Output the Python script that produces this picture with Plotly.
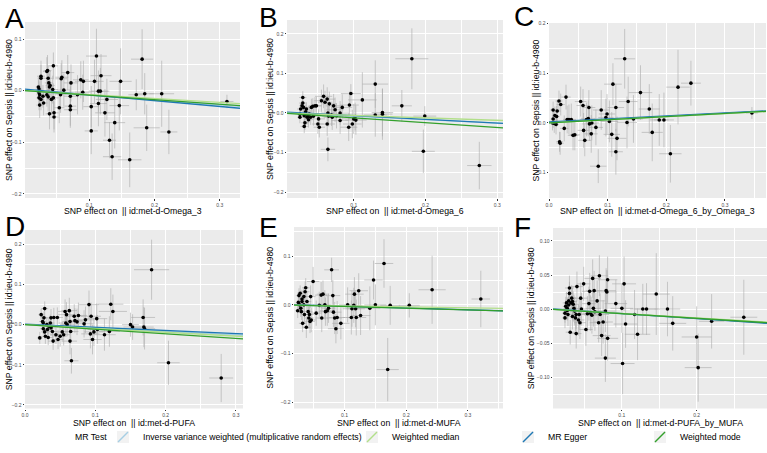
import plotly.graph_objects as go

FONT = "Liberation Sans, Arial, sans-serif"
W, H = 767, 453

# ---------------- data ----------------
METHODS = ["Inverse variance weighted (multiplicative random effects)",
           "Weighted median", "MR Egger", "Weighted mode"]
METHOD_COLORS = ["#a6cee3", "#b2df8a", "#1f78b4", "#33a02c"]

# Panel A: Omega_3
a_x = [0.022,0.023,0.023,0.024,0.023,0.026,0.024,0.026,0.026,0.029,
       0.030,0.035,0.036,0.037,0.038,0.039,0.035,0.037,0.039,0.045,
       0.042,0.045,0.046,0.046,0.044,0.040,0.057,0.058,0.056,0.054,
       0.061,0.067,0.072,0.071,0.071,0.071,0.087,0.091,0.090,0.082,
       0.103,0.103,0.108,0.111,0.114,0.117,0.118,0.114,0.124,0.127,
       0.131,0.135,0.139,0.146,0.148,0.162,0.172,0.181,0.185,0.188,
       0.211,0.222,0.311]
a_y = [0.007,0.003,-0.004,-0.008,-0.014,-0.017,-0.028,0.028,0.024,-0.011,
       -0.024,0.037,0.039,0.024,0.015,0.007,-0.008,-0.012,-0.045,0.048,
       -0.017,-0.014,-0.043,-0.051,0.002,0.010,0.023,0.026,-0.008,-0.033,
       0.001,0.035,0.015,-0.011,-0.030,-0.037,0.021,0.018,-0.003,-0.008,
       -0.031,-0.078,0.018,0.067,-0.001,-0.001,0.029,-0.025,-0.043,-0.017,
       -0.096,-0.128,-0.062,-0.029,0.018,-0.134,-0.008,0.061,-0.006,-0.072,
       -0.006,-0.080,-0.021]
a_sx = [0.004,0.005,0.004,0.005,0.004,0.005,0.005,0.006,0.005,0.005,
        0.006,0.006,0.006,0.007,0.006,0.006,0.006,0.007,0.006,0.007,
        0.007,0.008,0.007,0.007,0.008,0.007,0.009,0.010,0.009,0.008,
        0.010,0.010,0.011,0.010,0.009,0.010,0.012,0.013,0.012,0.011,
        0.012,0.010,0.014,0.016,0.015,0.014,0.016,0.013,0.015,0.017,
        0.010,0.014,0.016,0.015,0.017,0.018,0.012,0.017,0.014,0.020,
        0.019,0.013,0.010]
a_sy = [0.020,0.018,0.022,0.020,0.024,0.021,0.025,0.030,0.026,0.022,
        0.024,0.028,0.030,0.025,0.027,0.026,0.023,0.028,0.030,0.026,
        0.030,0.028,0.032,0.030,0.027,0.029,0.030,0.033,0.035,0.030,
        0.032,0.034,0.036,0.030,0.038,0.035,0.036,0.040,0.034,0.038,
        0.040,0.045,0.042,0.053,0.040,0.045,0.042,0.044,0.046,0.040,
        0.035,0.045,0.050,0.048,0.064,0.053,0.030,0.058,0.040,0.045,
        0.064,0.043,0.013]
a_slope = [-0.092, -0.076, -0.112, -0.088]   # IVW, W.median, Egger, W.mode
a_egger_int = 0.003

# Panel B: Omega_6
b_x = [0.025,0.025,0.026,0.028,0.029,0.029,0.030,0.031,0.032,0.031,
       0.033,0.034,0.035,0.036,0.037,0.038,0.040,0.041,0.043,0.044,
       0.046,0.048,0.050,0.051,0.052,0.055,0.058,0.060,0.063,0.064,
       0.064,0.065,0.063,0.066,0.069,0.070,0.072,0.074,0.076,0.081,
       0.081,0.084,0.093,0.094,0.096,0.098,0.100,0.102,0.103,0.112,
       0.130,0.130,0.140,0.140,0.167,0.181,0.199,0.197,0.275]
b_y = [-0.011,-0.003,0.010,0.018,0.039,0.025,0.014,-0.034,-0.025,-0.007,
       0.003,0.010,-0.011,-0.008,-0.017,-0.003,-0.011,0.014,0.017,-0.008,
       0.018,0.018,-0.028,-0.015,-0.036,0.031,0.042,0.027,0.035,-0.092,
       0.000,-0.008,-0.028,0.023,-0.005,-0.011,0.018,0.008,-0.007,0.000,
       -0.019,0.014,-0.036,0.020,0.049,-0.028,-0.015,-0.009,-0.018,0.033,
       0.073,-0.005,-0.003,0.001,0.018,0.137,-0.008,-0.097,-0.133]
b_sx = [0.004,0.004,0.005,0.004,0.005,0.005,0.004,0.005,0.005,0.005,
        0.005,0.006,0.006,0.006,0.006,0.007,0.006,0.007,0.007,0.008,
        0.008,0.008,0.008,0.009,0.008,0.010,0.012,0.010,0.011,0.010,
        0.010,0.009,0.011,0.010,0.011,0.012,0.011,0.012,0.012,0.013,
        0.012,0.014,0.012,0.013,0.014,0.013,0.015,0.014,0.015,0.020,
        0.018,0.016,0.014,0.015,0.014,0.023,0.016,0.016,0.017]
b_sy = [0.015,0.012,0.016,0.014,0.016,0.018,0.015,0.017,0.018,0.016,
        0.018,0.017,0.019,0.018,0.020,0.021,0.019,0.022,0.020,0.024,
        0.022,0.023,0.025,0.024,0.026,0.028,0.030,0.029,0.030,0.030,
        0.027,0.026,0.030,0.031,0.028,0.032,0.030,0.031,0.032,0.030,
        0.034,0.033,0.035,0.034,0.024,0.036,0.038,0.035,0.037,0.070,
        0.060,0.055,0.065,0.060,0.040,0.077,0.025,0.055,0.060]
b_slope = [-0.085, -0.062, -0.095, -0.123]
b_egger_int = 0.003

# Panel C: Omega_6_by_Omega_3
c_x = [0.006,0.007,0.007,0.009,0.010,0.012,0.013,0.014,0.017,0.018,
       0.019,0.020,0.026,0.029,0.031,0.034,0.038,0.041,0.044,0.054,
       0.058,0.059,0.061,0.064,0.067,0.068,0.069,0.072,0.073,0.080,
       0.089,0.097,0.099,0.103,0.107,0.109,0.114,0.116,0.114,0.084,
       0.129,0.135,0.133,0.144,0.156,0.171,0.176,0.188,0.196,0.207,
       0.220,0.242,0.346]
c_y = [0.000,0.008,0.026,-0.001,0.015,-0.003,0.013,0.024,0.044,-0.038,
       -0.041,0.037,-0.011,0.052,0.007,0.007,0.007,-0.025,-0.024,0.043,
       0.035,-0.015,-0.035,0.007,0.009,0.031,-0.002,-0.022,0.000,-0.009,
       0.026,0.011,0.018,0.003,-0.023,0.078,0.031,-0.031,-0.058,-0.087,
       0.129,0.043,0.001,0.008,0.061,0.028,-0.019,0.006,0.006,-0.062,
       0.072,0.080,0.020]
c_sx = [0.004,0.004,0.005,0.004,0.005,0.005,0.005,0.006,0.006,0.006,
        0.006,0.007,0.007,0.008,0.007,0.008,0.008,0.009,0.009,0.010,
        0.011,0.010,0.011,0.011,0.012,0.011,0.012,0.011,0.012,0.012,
        0.014,0.013,0.014,0.015,0.014,0.015,0.014,0.016,0.012,0.014,
        0.018,0.016,0.017,0.016,0.020,0.018,0.018,0.016,0.017,0.019,
        0.020,0.017,0.010]
c_sy = [0.015,0.018,0.017,0.019,0.018,0.020,0.021,0.022,0.021,0.020,
        0.023,0.022,0.026,0.025,0.028,0.030,0.032,0.030,0.031,0.030,
        0.033,0.035,0.032,0.034,0.036,0.035,0.034,0.038,0.035,0.036,
        0.040,0.038,0.040,0.042,0.045,0.042,0.048,0.044,0.046,0.034,
        0.060,0.050,0.052,0.048,0.055,0.050,0.058,0.052,0.055,0.058,
        0.075,0.045,0.012]
c_slope = [0.065, 0.062, 0.060, 0.063]
c_egger_int = 0.002

# Panel D: PUFA
d_x = [0.021,0.023,0.025,0.026,0.026,0.027,0.028,0.028,0.029,0.031,
       0.032,0.033,0.034,0.036,0.037,0.037,0.039,0.040,0.041,0.044,
       0.046,0.047,0.050,0.053,0.055,0.057,0.058,0.059,0.060,0.063,
       0.064,0.064,0.065,0.066,0.070,0.071,0.074,0.076,0.084,0.086,
       0.091,0.093,0.094,0.096,0.098,0.102,0.103,0.113,0.120,0.122,
       0.125,0.150,0.153,0.168,0.169,0.170,0.180,0.204,0.279]
d_y = [-0.033,0.025,0.008,-0.010,0.004,0.017,0.040,-0.018,-0.029,0.000,
       -0.012,-0.032,-0.004,0.004,0.017,-0.008,-0.017,-0.041,0.018,-0.025,
       0.018,-0.037,-0.029,-0.018,-0.025,0.033,0.004,0.025,0.000,0.035,
       0.008,-0.041,-0.017,-0.090,0.021,0.010,0.007,0.023,0.002,0.012,
       0.050,-0.023,0.021,-0.037,-0.018,0.015,-0.012,-0.025,-0.017,0.051,
       0.033,0.000,-0.006,0.018,-0.006,-0.010,0.137,-0.095,-0.133]
d_sx = [0.004,0.004,0.005,0.005,0.004,0.005,0.005,0.005,0.006,0.005,
        0.006,0.006,0.006,0.006,0.007,0.006,0.007,0.007,0.007,0.008,
        0.008,0.008,0.009,0.009,0.009,0.010,0.010,0.012,0.010,0.011,
        0.011,0.010,0.011,0.010,0.012,0.011,0.012,0.012,0.013,0.013,
        0.014,0.013,0.014,0.013,0.014,0.015,0.014,0.016,0.015,0.018,
        0.020,0.012,0.013,0.017,0.014,0.015,0.025,0.016,0.017]
d_sy = [0.015,0.014,0.016,0.015,0.017,0.016,0.018,0.017,0.019,0.018,
        0.018,0.019,0.020,0.021,0.022,0.020,0.023,0.022,0.024,0.023,
        0.025,0.024,0.026,0.025,0.027,0.030,0.028,0.031,0.029,0.032,
        0.030,0.033,0.031,0.032,0.030,0.031,0.033,0.032,0.034,0.033,
        0.035,0.036,0.034,0.037,0.035,0.038,0.036,0.040,0.038,0.040,
        0.042,0.030,0.032,0.045,0.050,0.052,0.075,0.055,0.060]
d_slope = [-0.085, -0.095, -0.078, -0.115]
d_egger_int = 0.001

# Panel E: MUFA
e_x = [0.024,0.025,0.026,0.027,0.028,0.029,0.030,0.031,0.031,0.032,
       0.034,0.034,0.035,0.036,0.037,0.038,0.039,0.041,0.042,0.043,
       0.044,0.045,0.046,0.049,0.054,0.059,0.062,0.063,0.065,0.068,
       0.069,0.072,0.074,0.079,0.081,0.082,0.084,0.086,0.088,0.094,
       0.105,0.111,0.112,0.115,0.116,0.118,0.119,0.123,0.126,0.141,
       0.147,0.150,0.164,0.170,0.174,0.205,0.242,0.321]
e_y = [-0.012,0.005,0.019,0.000,0.024,-0.007,-0.014,0.007,0.012,-0.038,
       0.017,0.000,-0.020,0.027,0.035,-0.046,0.007,-0.014,-0.027,-0.020,
       -0.034,0.017,-0.031,0.048,-0.017,-0.001,0.020,-0.027,0.022,0.000,
       -0.014,-0.012,-0.007,0.072,0.019,-0.015,-0.027,-0.049,-0.026,-0.038,
       0.000,-0.026,-0.008,-0.001,0.022,-0.008,-0.026,0.029,-0.022,-0.007,
       0.051,0.000,0.085,-0.133,-0.001,-0.001,0.031,0.012]
e_sx = [0.004,0.004,0.005,0.004,0.005,0.005,0.005,0.005,0.006,0.006,
        0.005,0.006,0.006,0.007,0.006,0.007,0.007,0.007,0.008,0.007,
        0.008,0.008,0.008,0.010,0.009,0.010,0.010,0.011,0.010,0.011,
        0.011,0.012,0.011,0.012,0.012,0.013,0.012,0.013,0.013,0.014,
        0.014,0.014,0.015,0.014,0.015,0.015,0.016,0.015,0.016,0.017,
        0.015,0.018,0.015,0.018,0.016,0.017,0.022,0.015]
e_sy = [0.015,0.016,0.015,0.017,0.016,0.018,0.017,0.018,0.019,0.018,
        0.019,0.020,0.019,0.021,0.020,0.022,0.021,0.022,0.023,0.022,
        0.024,0.023,0.025,0.030,0.026,0.028,0.027,0.029,0.028,0.030,
        0.029,0.031,0.030,0.025,0.032,0.031,0.033,0.030,0.034,0.033,
        0.036,0.035,0.037,0.036,0.035,0.038,0.037,0.036,0.040,0.045,
        0.040,0.042,0.050,0.065,0.040,0.025,0.070,0.058]
e_slope = [-0.033, -0.020, -0.037, -0.035]
e_egger_int = 0.001

# Panel F: PUFA_by_MUFA
f_x = [0.024,0.024,0.025,0.026,0.027,0.027,0.028,0.029,0.029,0.030,
       0.030,0.031,0.032,0.033,0.034,0.034,0.035,0.036,0.037,0.038,
       0.039,0.039,0.040,0.042,0.043,0.044,0.045,0.046,0.049,0.052,
       0.054,0.056,0.057,0.058,0.060,0.061,0.062,0.063,0.064,0.067,
       0.069,0.070,0.071,0.073,0.075,0.078,0.079,0.080,0.081,0.081,
       0.078,0.092,0.100,0.103,0.105,0.101,0.117,0.121,0.128,0.133,
       0.146,0.161,0.168,0.200,0.202,0.220,0.263]
f_y = [-0.006,-0.013,0.004,0.009,-0.002,0.001,-0.008,0.012,0.006,0.031,
       0.023,-0.034,0.009,0.016,-0.011,0.011,0.007,0.001,-0.003,-0.013,
       -0.036,-0.008,0.033,-0.016,-0.008,-0.020,0.016,0.000,0.037,-0.030,
       -0.007,0.008,0.026,-0.006,-0.009,0.045,0.001,0.027,-0.004,0.012,
       -0.020,0.049,-0.008,-0.039,-0.019,-0.003,0.027,0.025,-0.043,0.043,
       -0.072,0.008,0.001,0.037,-0.022,-0.080,-0.008,-0.037,0.000,0.000,
       0.022,0.000,-0.021,-0.041,-0.086,-0.018,-0.012]
f_sx = [0.004,0.004,0.004,0.005,0.004,0.005,0.005,0.005,0.005,0.006,
        0.005,0.006,0.005,0.006,0.006,0.006,0.007,0.006,0.007,0.007,
        0.007,0.007,0.008,0.008,0.008,0.008,0.009,0.008,0.009,0.009,
        0.010,0.009,0.010,0.010,0.010,0.011,0.010,0.011,0.011,0.011,
        0.012,0.012,0.012,0.012,0.013,0.013,0.013,0.013,0.014,0.013,
        0.014,0.015,0.015,0.016,0.016,0.016,0.016,0.017,0.017,0.016,
        0.018,0.017,0.018,0.020,0.018,0.017,0.018]
f_sy = [0.014,0.015,0.014,0.016,0.015,0.016,0.017,0.016,0.017,0.018,
        0.017,0.018,0.018,0.019,0.019,0.020,0.019,0.020,0.021,0.020,
        0.022,0.021,0.022,0.023,0.022,0.024,0.023,0.024,0.025,0.024,
        0.026,0.025,0.027,0.026,0.027,0.028,0.027,0.029,0.028,0.030,
        0.029,0.030,0.031,0.030,0.032,0.031,0.033,0.032,0.033,0.034,
        0.035,0.035,0.036,0.040,0.035,0.045,0.036,0.038,0.037,0.038,
        0.060,0.040,0.040,0.045,0.050,0.040,0.055]
f_slope = [-0.070, -0.065, -0.075, -0.068]
f_egger_int = 0.001

Y_TITLE = "SNP effect on Sepsis || id:ieu-b-4980"
X_TITLES = ["SNP effect on  || id:met-d-Omega_3",
            "SNP effect on  || id:met-d-Omega_6",
            "SNP effect on  || id:met-d-Omega_6_by_Omega_3",
            "SNP effect on  || id:met-d-PUFA",
            "SNP effect on  || id:met-d-MUFA",
            "SNP effect on  || id:met-d-PUFA_by_MUFA"]
LETTERS = ["A", "B", "C", "D", "E", "F"]
LEGEND_TITLE = "MR Test"

# ---------------- layout (pixel boxes: left, right, top, bottom) ----------------
panels = [
    dict(x=a_x, y=a_y, sx=a_sx, sy=a_sy, slope=a_slope, eint=a_egger_int,
         box=(25, 240, 22, 198), xr=[0.0015, 0.331], yr=[-0.208, 0.133], ydt=0.1,
         letter=(3, 1), ytx=9, xty=210.5),
    dict(x=b_x, y=b_y, sx=b_sx, sy=b_sy, slope=b_slope, eint=b_egger_int,
         box=(287, 503, 20, 198), xr=[0.007, 0.308], yr=[-0.215, 0.235], ydt=0.1,
         letter=(257, 0), ytx=270, xty=210.5),
    dict(x=c_x, y=c_y, sx=c_sx, sy=c_sy, slope=c_slope, eint=c_egger_int,
         box=(549, 766, 23, 198), xr=[0.0, 0.37], yr=[-0.151, 0.201], ydt=0.1,
         letter=(512, -1), ytx=535, xty=210.5),
    dict(x=d_x, y=d_y, sx=d_sx, sy=d_sy, slope=d_slope, eint=d_egger_int,
         box=(25, 243, 230, 408.5), xr=[0.0, 0.31], yr=[-0.209, 0.236], ydt=0.1,
         letter=(3, 209), ytx=9, xty=422.5),
    dict(x=e_x, y=e_y, sx=e_sx, sy=e_sy, slope=e_slope, eint=e_egger_int,
         box=(294, 503, 227, 408.5), xr=[0.018, 0.357], yr=[-0.213, 0.16], ydt=0.1,
         letter=(257, 210), ytx=270, xty=422.5),
    dict(x=f_x, y=f_y, sx=f_sx, sy=f_sy, slope=f_slope, eint=f_egger_int,
         box=(553, 767, 228, 408.5), xr=[0.008, 0.294], yr=[-0.146, 0.119], ydt=0.05,
         letter=(512, 210), ytx=531, xty=422.5),
]

fig = go.Figure()
annotations = []
shapes = []
layout_axes = {}

for i, p in enumerate(panels):
    n = i + 1
    xa = "x" if n == 1 else f"x{n}"
    ya = "y" if n == 1 else f"y{n}"
    xkey = "xaxis" if n == 1 else f"xaxis{n}"
    ykey = "yaxis" if n == 1 else f"yaxis{n}"
    l, r, t, b = p["box"]
    xdom = [l / W, r / W]
    ydom = [1 - b / H, 1 - t / H]

    # error bars + points
    fig.add_trace(go.Scatter(
        x=p["x"], y=p["y"], mode="markers", xaxis=xa, yaxis=ya, showlegend=False,
        marker=dict(color="black", size=3.6),
        error_x=dict(type="data", array=p["sx"], color="rgba(170,170,170,0.75)", thickness=0.8, width=0),
        error_y=dict(type="data", array=p["sy"], color="rgba(170,170,170,0.75)", thickness=0.8, width=0),
        hoverinfo="skip"))

    # regression lines (IVW, W.median, Egger, W.mode)
    x0, x1 = p["xr"]
    for k in [0, 2, 1, 3]:
        b_ = p["slope"][k]
        a_ = p["eint"] if k == 2 else 0.0
        fig.add_trace(go.Scatter(
            x=[x0, x1], y=[a_ + b_ * x0, a_ + b_ * x1], mode="lines",
            xaxis=xa, yaxis=ya, name=METHODS[k],
            line=dict(color=METHOD_COLORS[k], width=1.3),
            showlegend=False, hoverinfo="skip"))

    common = dict(showgrid=True, gridcolor="white", gridwidth=1, zeroline=False,
                  ticks="outside", ticklen=1.5, tickwidth=0.6, tickcolor="#333333",
                  tickfont=dict(size=5, color="#4D4D4D", family=FONT),
                  showline=False, automargin=False, fixedrange=True)
    layout_axes[xkey] = dict(domain=xdom, anchor=ya, range=p["xr"], tickmode="linear",
                             tick0=0, dtick=0.1, tickformat=".1f",
                             minor=dict(tick0=0, dtick=0.05, showgrid=True, gridcolor="white",
                                        gridwidth=0.5, ticklen=0),
                             **common)
    ydt = p["ydt"]
    layout_axes[ykey] = dict(domain=ydom, anchor=xa, range=p["yr"], tickmode="linear",
                             tick0=0, dtick=ydt, tickformat=".2f" if ydt < 0.1 else ".1f",
                             minor=dict(tick0=0, dtick=ydt / 2, showgrid=True, gridcolor="white",
                                        gridwidth=0.5, ticklen=0),
                             **common)

    annotations.append(dict(text=LETTERS[i], x=p["letter"][0] / W, y=1 - p["letter"][1] / H,
                            xref="paper", yref="paper", xanchor="left", yanchor="top",
                            showarrow=False, font=dict(size=28, color="black", family=FONT)))
    annotations.append(dict(text=X_TITLES[i], x=(l + r) / 2 / W, y=1 - p["xty"] / H,
                            xref="paper", yref="paper", xanchor="center", yanchor="middle",
                            showarrow=False, font=dict(size=8.7, color="black", family=FONT)))
    annotations.append(dict(text=Y_TITLE, x=p["ytx"] / W, y=1 - (t + b) / 2 / H,
                            xref="paper", yref="paper", xanchor="center", yanchor="middle",
                            textangle=-90, showarrow=False,
                            font=dict(size=8.7, color="black", family=FONT)))

# legend entries (diagonal-line keys like ggplot)
LEG_Y = 437
legend_text_start = [143, 392, 548, 680]
legend_names = ["legend", "legend2", "legend3", "legend4"]
legends = {}
for k in range(4):
    fig.add_trace(go.Scatter(
        x=[None], y=[None], mode="markers", name=METHODS[k], legend=legend_names[k],
        marker=dict(symbol="line-ne", size=10, color=METHOD_COLORS[k],
                    line=dict(color=METHOD_COLORS[k], width=1.4)),
        showlegend=True, hoverinfo="skip"))
    ts = legend_text_start[k]
    legends[legend_names[k]] = dict(x=(ts - 40) / W, y=1 - LEG_Y / H,
                                    xanchor="left", yanchor="middle", orientation="h",
                                    bgcolor="rgba(0,0,0,0)", borderwidth=0,
                                    font=dict(size=8.7, color="black", family=FONT),
                                    itemclick=False, itemdoubleclick=False)
    shapes.append(dict(type="rect", xref="paper", yref="paper", layer="below",
                       x0=(ts - 26) / W, x1=(ts - 14) / W,
                       y0=1 - (LEG_Y + 6) / H, y1=1 - (LEG_Y - 6) / H,
                       fillcolor="#F2F2F2", line=dict(width=0)))

annotations.append(dict(text=LEGEND_TITLE, x=73 / W, y=1 - LEG_Y / H, xref="paper", yref="paper",
                        xanchor="left", yanchor="middle", showarrow=False,
                        font=dict(size=8.7, color="black", family=FONT)))

fig.update_layout(
    width=W, height=H, margin=dict(l=0, r=0, t=0, b=0),
    paper_bgcolor="white", plot_bgcolor="#EBEBEB",
    font=dict(family=FONT, color="black"),
    annotations=annotations, shapes=shapes, showlegend=True,
    **layout_axes, **legends)

fig.write_html("out.html")
